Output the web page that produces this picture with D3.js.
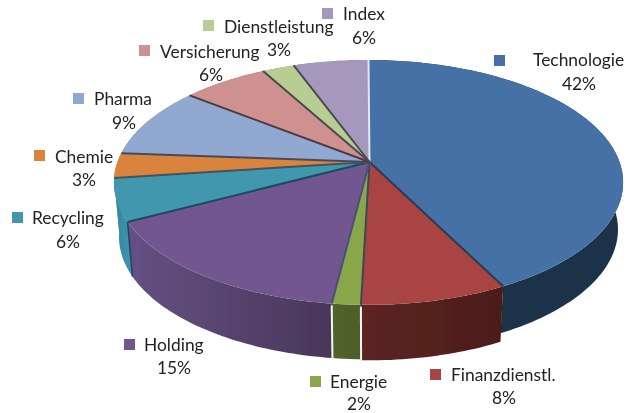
<!DOCTYPE html>
<html><head><meta charset="utf-8">
<script src="https://cdnjs.cloudflare.com/ajax/libs/d3/7.8.5/d3.min.js"></script>
<style>html,body{margin:0;background:#fff}svg{display:block}text{font-family:Lato,"Open Sans",sans-serif;font-size:17.4px;fill:#222}</style>
</head><body><svg id="c" width="628" height="413"></svg>
<script>
const categories = ["Technologie","Finanzdienstl.","Energie","Holding","Recycling","Chemie","Pharma","Versicherung","Dienstleistung","Index"];
const shares = [42.45,7.95,1.55,15.35,5.6,3.3,9.4,6.4,2.4,5.6];
const percentLabels = ["42%","8%","2%","15%","6%","3%","9%","6%","3%","6%"];
const topColors = ["#4571a6","#a84542","#8aa64c","#72578f","#3f97ae","#da833c","#91a8d0","#cf9190","#b8cd94","#a697bd"];
const wallRight = ["#1c3049","#4b1c19","#4d602b","#493659","#3c92aa","#b36a30","#7a8db0","#a97675","#94a578","#85799a"];
const wallLeft = ["#1a2c44","#5c2523","#4f632c","#655083","#2f88a0","#9a5b29","#6a7b9a","#936766","#80906a","#75698a"];
const edgeColors = ["#3c4658","#2c3a52","#3c4658","#46507a","#1f4a62","#3f5560","#4a4a58","#4a3a42","#4a4a48","#4a4a52"];

// layout of the labels: [swatch x, swatch y, name x, name baseline, percent centre, percent baseline]
const labelLayout = [
 [494,55,533,66,579,90],[430,369,451,381,504,404],[310,376,330,388,359,410],
 [124,339,144,351,174,374],[12,212,32,224,68,248],[34,150,55,163,84,186],
 [73,93,94,105,124,129],[139,45,160,58,279,56],[203,20,224,33,211,81],[322,8,343,20,364,44]];
// the two percent labels of Versicherung and Dienstleistung sit as in the reference
[labelLayout[7][4], labelLayout[8][4], labelLayout[7][5], labelLayout[8][5]] = [211, 279, 81, 56];
// wall height of each slice
const wallDepths = [47,55.5,54.5,54.5,54.5,54.5,54.5,54.5,54.5,54.5];

const svg = d3.select("#c");
const defs = svg.append("defs");
defs.append("filter").attr("id","soft").attr("x","-5%").attr("y","-5%").attr("width","110%").attr("height","110%")
  .append("feGaussianBlur").attr("stdDeviation",0.45);
const cx = 368.5, cy = 162, a = 251, b = 119, p = 0.167, wallShrink = 0.98;

// tilted-disc projection: angle runs clockwise from the top
const project = ang => {
  const u = Math.sin(ang), v = Math.cos(ang), w = 1 + p * v;
  return [cx + a * u / w, cy - b * v / w];
};
const projectLow = (ang, depth) => {
  const [x, y] = project(ang);
  return [cx + (x - cx) * wallShrink, y + depth];
};
const line = d3.line();
const pie = d3.pie().sort(null).value(d => d)(shares);
const samples = (s, e) => { const n = Math.max(2, Math.ceil((e - s) / 0.02)); return d3.range(n + 1).map(i => s + (e - s) * i / n); };

const chart = svg.append("g").attr("filter","url(#soft)");

// walls, back ones first
const walls = chart.append("g");
pie.map((d, i) => ({d, i}))
  .sort((m, n) => Math.abs((n.d.startAngle + n.d.endAngle) / 2 - Math.PI) - Math.abs((m.d.startAngle + m.d.endAngle) / 2 - Math.PI))
  .forEach(({d, i}) => {
    const angs = samples(d.startAngle, d.endAngle);
    const id = "w" + i;
    const xs = [project(d.startAngle)[0], project(d.endAngle)[0]];
    const g = defs.append("linearGradient").attr("id", id).attr("gradientUnits", "userSpaceOnUse")
      .attr("x1", d3.min(xs)).attr("x2", d3.max(xs)).attr("y1", 0).attr("y2", 0);
    g.append("stop").attr("offset", 0).attr("stop-color", wallLeft[i]);
    g.append("stop").attr("offset", 1).attr("stop-color", wallRight[i]);
    walls.append("path")
      .attr("d", line([...angs.map(t => project(t)), ...angs.slice().reverse().map(t => projectLow(t, wallDepths[i]))]) + "Z")
      .attr("fill", `url(#${id})`);
  });
// white gaps at both sides of the Energie wall
const energie = pie[categories.indexOf("Energie")];
[energie.startAngle, energie.endAngle].forEach(t => {
  const [x, y] = project(t);
  walls.append("path")
    .attr("d", line([[x, y + 2], projectLow(t, wallDepths[2] + 2)]))
    .attr("stroke", "#f4f4f0").attr("stroke-width", 2).attr("fill", "none");
});

// top faces
const tops = chart.append("g");
pie.forEach((d, i) => {
  tops.append("path")
    .attr("d", line([[cx + 1, cy], ...samples(d.startAngle, d.endAngle).map(t => project(t))]) + "Z")
    .attr("fill", topColors[i]);
});
// slice edges
pie.forEach((d, i) => {
  const first = i === 0;
  tops.append("path")
    .attr("d", line([[cx + 1, cy + (first ? 3 : 0)], project(d.startAngle)]))
    .attr("fill", "none")
    .attr("stroke", first ? "#e4e6f2" : edgeColors[i])
    .attr("stroke-width", 2);
});
// dark corner line between the Holding and Recycling walls
const holding = pie[categories.indexOf("Holding")];
tops.append("path")
  .attr("d", line([project(holding.endAngle), projectLow(holding.endAngle, wallDepths[3])]))
  .attr("stroke", edgeColors[4]).attr("stroke-width", 1.6).attr("fill", "none");

// labels
const lab = svg.append("g").attr("filter","url(#soft)");
categories.forEach((c, i) => {
  const [sx, sy, tx, ty, px, py] = labelLayout[i];
  lab.append("rect").attr("x", sx).attr("y", sy).attr("width", 11).attr("height", 11).attr("fill", topColors[i]);
  lab.append("text").attr("x", tx).attr("y", ty).text(c);
  lab.append("text").attr("x", px).attr("y", py).attr("text-anchor", "middle").text(percentLabels[i]);
});
</script></body></html>
